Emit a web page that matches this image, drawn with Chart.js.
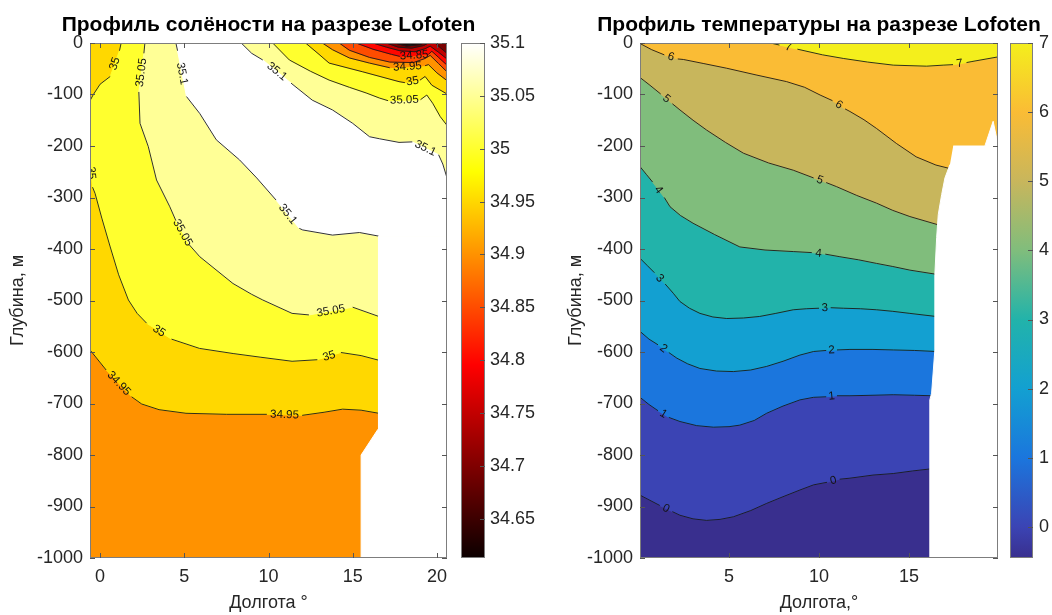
<!DOCTYPE html>
<html lang="ru">
<head>
<meta charset="utf-8">
<title>Профили на разрезе Lofoten</title>
<script src="https://cdn.jsdelivr.net/npm/chart.js@4.4.0/dist/chart.umd.min.js"></script>
<style>
  html, body { margin: 0; background: #fff; }
  #wrap { position: relative; width: 1052px; height: 615px; overflow: hidden; }
  #wrap canvas { position: absolute; top: 0; }
</style>
</head>
<body>
<div id="wrap">
  <canvas id="salChart" width="480" height="615" style="left:0"></canvas>
  <canvas id="salBar" width="95" height="615" style="left:455px"></canvas>
  <canvas id="tempChart" width="497" height="615" style="left:555px"></canvas>
  <canvas id="tempBar" width="48" height="615" style="left:1004px"></canvas>
</div>
<script>
// оси: долгота (°) и глубина (м)
const depthTicks = [0, -100, -200, -300, -400, -500, -600, -700, -800, -900, -1000];
const salLon = [-0.6, 20.6];
const salLonTicks = [0, 5, 10, 15, 20];
const salRange = [34.613, 35.1];
const salTicks = [34.65, 34.7, 34.75, 34.8, 34.85, 34.9, 34.95, 35, 35.05, 35.1];
const tempLon = [0.05, 19.95];
const tempLonTicks = [5, 10, 15];
const tempRange = [-0.45, 7];
const tempTicks = [0, 1, 2, 3, 4, 5, 6, 7];

// изолинии солёности [долгота, глубина], null = разрыв под подпись
const s3495 = [[-0.6,-596],[0.36,-635],null,[1.87,-687],[2.47,-701],[3.5,-712],[5.1,-719],[7.5,-721],[9.9,-721],null,[12.0,-723],[13.3,-717],[14.4,-711],[15.5,-713],[16.55,-719]];
const s35a = [[1.25,0],[1.15,-15],null,[0.6,-65],[0,-80],[-0.4,-100],[-0.6,-112]];
const s35b = [[-0.6,-225],null,[-0.45,-280],[-0.3,-292],[0.1,-340],[0.6,-396],[1.1,-450],[1.68,-499],[2.2,-525],[2.76,-544],null,[4.24,-575],[5.9,-593],[7.9,-603],[9.5,-610],[11.4,-618],[12.9,-615],null,[14.3,-601],[15.5,-607],[16.55,-616]];
const s3505 = [[2.66,0],[2.6,-20],null,[2.3,-95],[2.37,-156],[2.86,-201],[3.35,-266],[4.14,-318],[4.5,-345],null,[5.3,-392],[5.92,-415],[7.89,-467],[9.0,-488],[9.66,-499],[11.4,-525],[12.4,-528],null,[15.0,-513],[16.55,-531]];
const s351a = [[4.5,0],[4.6,-15],null,[5.13,-104],[5.92,-137],[6.9,-188],[8.28,-227],[9.3,-262],[10.45,-305],null,[11.83,-360],[12.03,-363],[13.8,-373],[15.4,-368],[16.55,-375]];
const s351b = [[8.38,0],[9.0,-20],[9.66,-33],null,[11.34,-78],[12.6,-111],[13.8,-130],[15.0,-156],[16.0,-182],[16.6,-186],[17.75,-193],[18.54,-192],null,[20.1,-217],[20.35,-235],[20.6,-262]];
// пятно распреснения в правом верхнем углу
const r3505 = [[10.25,0],[11.24,-33],[12.5,-55],[13.6,-72],[14.8,-86],[15.8,-97],[16.6,-107],[17.1,-112],null,[19.03,-110],[19.4,-101],[19.75,-117],[20.2,-143],[20.6,-160]];
const r35 = [[12.2,0],[13.0,-22],[13.6,-39],[15.6,-56],[17.75,-75],[18.1,-77],null,[19.0,-72],[19.3,-65],[19.7,-82],[20.6,-99]];
const r3495 = [[13.2,0],[13.8,-13],[14.8,-29],[16.0,-39],[17.2,-48],null,[19.3,-44],[19.5,-42],[20.0,-58],[20.6,-73]];
const r349 = [[14.2,0],[14.8,-14],[16.0,-28],[17.2,-37],[18.6,-38],[19.3,-30],[19.6,-24],[20.1,-40],[20.6,-56]];
const r3485 = [[15.2,0],[16.2,-12],[17.3,-22],[17.8,-26],null,[19.5,-22],[19.7,-16],[20.1,-28],[20.6,-43]];
const r348 = [[16.2,0],[17.0,-8],[17.8,-15],[18.7,-17],[19.3,-11],[19.6,-6],[20.1,-18],[20.6,-31]];
const r3475a = [[17.0,0],[17.7,-8],[18.5,-10],[19.2,-5],[19.5,0]];
const r3475b = [[19.9,0],[20.2,-9],[20.6,-20]];
const r347 = [[17.5,0],[18.2,-6],[19.0,-3],[19.2,0]];
const r3465 = [[17.9,0],[18.4,-3],[18.9,0]];
const salNaN = [[16.5,-375],[20.6,-375],[20.6,-1000],[15.5,-1000],[15.5,-800],[16.5,-750]];

// изотермы
const t0 = [[0.05,-878],[0.6,-888],[1.15,-898],null,[1.85,-910],[2.27,-917],[3.0,-924],[3.75,-927],[4.5,-925],[5.24,-920],[6.2,-908],[7.09,-894],[8.0,-881],[8.94,-868],[9.7,-858],[10.45,-853],null,[11.15,-847],[11.72,-845],[13.0,-839],[14.13,-836],[15.2,-831],[16.2,-827]];
const t1 = [[0.05,-688],[0.55,-702],[1.05,-714],null,[1.65,-727],[2.27,-735],[3.2,-743],[4.13,-746],[5.0,-745],[5.6,-742],[6.4,-733],[7.09,-719],[8.0,-705],[8.94,-693],[9.7,-688],[10.4,-687],null,[11.0,-685],[11.72,-685],[13.0,-684],[14.13,-683],[15.3,-684],[16.3,-685]];
const t2 = [[0.05,-560],[0.55,-575],[1.05,-586],null,[1.65,-601],[2.1,-612],[2.7,-623],[3.38,-632],[4.3,-637],[5.24,-638],[6.2,-635],[7.09,-628],[8.0,-618],[8.94,-606],[9.7,-599],[10.4,-597],null,[11.0,-596],[11.72,-595],[13.0,-595],[14.13,-596],[15.3,-597],[16.5,-599]];
const t3 = [[0.05,-418],[0.45,-432],[0.85,-446],null,[1.45,-468],[1.9,-486],[2.27,-502],[2.8,-515],[3.38,-525],[4.1,-532],[4.87,-535],[5.8,-534],[6.7,-531],[7.6,-525],[8.57,-518],[9.3,-516],[10.0,-515],null,[10.65,-514],[11.35,-515],[12.3,-516],[13.2,-518],[14.1,-521],[15.05,-525],[16.5,-531]];
const t4 = [[0.05,-240],[0.4,-255],[0.75,-270],null,[1.4,-300],[1.72,-318],[2.3,-335],[3.0,-350],[4.2,-372],[5.6,-396],[7.0,-402],[8.57,-405],[9.6,-407],null,[10.35,-410],[11.16,-415],[12.2,-421],[13.2,-428],[14.1,-434],[15.05,-441],[16.5,-449]];
const t5 = [[0.05,-67],[0.6,-82],[1.2,-99],null,[1.85,-118],[2.27,-130],[3.0,-150],[3.75,-169],[4.8,-193],[5.8,-214],[7.2,-233],[8.57,-247],[9.7,-262],null,[10.4,-271],[10.98,-279],[12.1,-296],[13.2,-311],[14.1,-325],[15.05,-337],[16.62,-353]];
const t6 = [[0.05,-1],[0.7,-13],[1.4,-23],null,[2.15,-31],[2.46,-32],[3.6,-40],[4.87,-49],[6.5,-62],[8.2,-75],[9.2,-86],[10.06,-101],[10.75,-112],null,[11.45,-128],[11.72,-133],[12.5,-149],[13.2,-166],[14.3,-195],[15.4,-221],[16.5,-237],[17.3,-244]];
const t6b = [[19.22,-201],[19.5,-186]];
const t7 = [[7.3,0],[7.8,-4],null,[8.8,-12],[10.2,-23],[11.35,-30],[12.7,-37],[14.13,-43],[15.98,-45],[16.9,-43],[17.45,-42],null,[18.2,-38],[18.5,-36],[19.95,-27]];
const tempNaN = [[17.46,-200],[19.22,-200],[19.68,-152],[19.87,-184],[19.95,-195],[19.95,-1000],[16.12,-1000],[16.16,-693],[16.26,-680],[16.44,-596],[16.44,-450],[16.54,-378],[16.63,-333],[16.82,-294],[17.0,-262],[17.28,-236]];

// палитра для температуры (приближение parula с картинки)
const tempCmap = [[-0.45,'#392f8e'],[0,'#3b44b4'],[1,'#1b76dd'],[2,'#13a0d1'],[3,'#22b3aa'],[4,'#80bd7c'],[5,'#c8b65c'],[6,'#fabc35'],[7,'#f4ef1c']];

Chart.defaults.font.family = "'Liberation Sans', Arial, Helvetica, sans-serif";
Chart.defaults.font.size = 18;
Chart.defaults.color = '#262626';

const solid = a => a.filter(p => p !== null);
const last = a => a[a.length - 1];

// область выше изолинии (до правого края и верха)
function above(line, x0, x1) {
  const p = solid(line);
  const out = [...p, [x1, last(p)[1]], [x1, 0]];
  if (p[0][0] === x0) out.push([x0, 0]);
  return out;
}
// область в правом верхнем углу
function corner(line, x1) {
  const p = solid(line);
  return last(p)[0] === x1 ? [...p, [x1, 0]] : p;
}

function hot(v) {
  const t = Math.min(1, Math.max(0, (v - salRange[0]) / (salRange[1] - salRange[0])));
  const r = Math.min(1, t / 0.375);
  const g = Math.min(1, Math.max(0, (t - 0.375) / 0.375));
  const b = Math.max(0, (t - 0.75) / 0.25);
  return `rgb(${Math.round(r * 255)},${Math.round(g * 255)},${Math.round(b * 255)})`;
}
const hotStops = [[0, '#0b0000'], [0.375, '#ff0000'], [0.75, '#ffff00'], [1, '#ffffff']]
  .map(([t, c]) => [salRange[0] + t * (salRange[1] - salRange[0]), c]);

function hex2rgb(h) {
  return [1, 3, 5].map(i => parseInt(h.slice(i, i + 2), 16));
}
function tempColor(v) {
  for (let i = 1; i < tempCmap.length; i++) {
    const [v0, c0] = tempCmap[i - 1], [v1, c1] = tempCmap[i];
    if (v <= v1) {
      const k = Math.max(0, (v - v0) / (v1 - v0));
      const a = hex2rgb(c0), b = hex2rgb(c1);
      return `rgb(${a.map((x, j) => Math.round(x + (b[j] - x) * k)).join(',')})`;
    }
  }
  return last(tempCmap)[1];
}

function areaDs(points, color) {
  return {
    data: points.map(([x, y]) => ({x, y})),
    fill: 'shape',
    backgroundColor: color,
    borderColor: color,
    borderWidth: 1,
    pointRadius: 0,
    tension: 0
  };
}
function lineDs(points) {
  return {
    data: points.map(p => p ? {x: p[0], y: p[1]} : {x: null, y: null}),
    fill: false,
    borderColor: '#1a1a1a',
    borderWidth: 0.9,
    pointRadius: 0,
    tension: 0,
    spanGaps: false
  };
}

// подписи изолиний в разрывах линий
const contourLabels = {
  id: 'contourLabels',
  afterDatasetsDraw(chart, args, opts) {
    const {ctx, chartArea: a, scales: {x, y}} = chart;
    ctx.save();
    ctx.beginPath();
    ctx.rect(a.left, a.top, a.right - a.left, a.bottom - a.top);
    ctx.clip();
    ctx.font = "11.5px 'Liberation Sans', Arial, sans-serif";
    ctx.fillStyle = '#141414';
    ctx.textAlign = 'center';
    ctx.textBaseline = 'middle';
    opts.lines.forEach(([pts, text]) => {
      pts.forEach((p, i) => {
        if (p !== null || i === 0 || i === pts.length - 1) return;
        const p0 = pts[i - 1], p1 = pts[i + 1];
        const x0 = x.getPixelForValue(p0[0]), y0 = y.getPixelForValue(p0[1]);
        const x1 = x.getPixelForValue(p1[0]), y1 = y.getPixelForValue(p1[1]);
        let ang = Math.atan2(y1 - y0, x1 - x0);
        if (ang > Math.PI / 2) ang -= Math.PI;
        if (ang < -Math.PI / 2) ang += Math.PI;
        ctx.save();
        ctx.translate((x0 + x1) / 2, (y0 + y1) / 2);
        ctx.rotate(ang);
        ctx.fillText(text, 0, 0);
        ctx.restore();
      });
    });
    ctx.restore();
  }
};

// рамка осей и засечки внутрь
const frame = {
  id: 'frame',
  afterDatasetsDraw(chart, args, opts) {
    const {ctx, chartArea: a} = chart;
    const len = 5;
    ctx.save();
    ctx.strokeStyle = '#7d7d7d';
    ctx.lineWidth = 1;
    ctx.strokeRect(a.left + 0.5, a.top + 0.5, a.right - a.left - 1, a.bottom - a.top - 1);
    ctx.strokeStyle = '#555';
    ctx.beginPath();
    (opts.x ? chart.scales.x.ticks : []).forEach(t => {
      const px = Math.round(chart.scales.x.getPixelForValue(t.value)) + 0.5;
      ctx.moveTo(px, a.bottom); ctx.lineTo(px, a.bottom - len);
      ctx.moveTo(px, a.top); ctx.lineTo(px, a.top + len);
    });
    chart.scales.y.ticks.forEach(t => {
      const py = Math.round(chart.scales.y.getPixelForValue(t.value)) + 0.5;
      if (opts.left) { ctx.moveTo(a.left, py); ctx.lineTo(a.left + len, py); }
      ctx.moveTo(a.right, py); ctx.lineTo(a.right - len, py);
    });
    ctx.stroke();
    ctx.restore();
  }
};

// заголовок по центру осей, шире самих осей (без сжатия)
const heading = {
  id: 'heading',
  afterDraw(chart, args, opts) {
    const {ctx, chartArea: a} = chart;
    ctx.save();
    ctx.font = "bold 21px 'Liberation Sans', Arial, sans-serif";
    ctx.fillStyle = '#000';
    ctx.textAlign = 'center';
    ctx.textBaseline = 'middle';
    ctx.fillText(opts.text, (a.left + a.right) / 2, 25);
    ctx.restore();
  }
};

function sectionChart(id, o) {
  const datasets = [
    ...o.areas.map(([pts, c]) => areaDs(pts, c)),
    ...o.lines.map(([pts]) => lineDs(pts)),
    areaDs(o.mask, '#ffffff')
  ].map((d, i) => ({...d, order: -i}));

  return new Chart(document.getElementById(id), {
    type: 'line',
    data: {datasets},
    options: {
      responsive: false,
      animation: false,
      events: [],
      layout: {padding: {left: 0, right: o.padRight, top: 43, bottom: 0}},
      scales: {
        x: {
          type: 'linear',
          min: o.lon[0],
          max: o.lon[1],
          afterBuildTicks: s => { s.ticks = o.lonTicks.map(v => ({value: v})); },
          afterFit: s => { s.height = 57; },
          grid: {display: false, drawTicks: false},
          border: {display: false},
          ticks: {padding: 8, maxRotation: 0, autoSkip: false, callback: v => String(v)},
          title: {display: true, text: o.xTitle, padding: {top: 0, bottom: 1}}
        },
        y: {
          type: 'linear',
          min: -1000,
          max: 0,
          afterBuildTicks: s => { s.ticks = depthTicks.map(v => ({value: v})); },
          afterFit: s => { s.width = o.yWidth; },
          grid: {display: false, drawTicks: false},
          border: {display: false},
          ticks: {padding: 7, autoSkip: false, callback: v => String(v)},
          title: {display: true, text: 'Глубина, м', padding: {top: o.yTitlePad, bottom: 0}}
        }
      },
      plugins: {
        legend: {display: false},
        tooltip: {enabled: false},
        title: {display: false},
        heading: {text: o.title},
        contourLabels: {lines: o.lines},
        frame: {x: true, left: true}
      }
    },
    plugins: [contourLabels, frame, heading]
  });
}

function colorBar(id, o) {
  return new Chart(document.getElementById(id), {
    type: 'bar',
    data: {
      labels: [''],
      datasets: [{
        data: [o.range],
        backgroundColor: c => {
          const chart = c.chart;
          if (!chart.chartArea) return 'transparent';
          const ys = chart.scales.y;
          const g = chart.ctx.createLinearGradient(0, ys.getPixelForValue(o.range[0]), 0, ys.getPixelForValue(o.range[1]));
          o.stops.forEach(([v, col]) => g.addColorStop((v - o.range[0]) / (o.range[1] - o.range[0]), col));
          return g;
        },
        barPercentage: 1,
        categoryPercentage: 1,
        borderWidth: 0,
        borderSkipped: false
      }]
    },
    options: {
      responsive: false,
      animation: false,
      events: [],
      layout: {padding: {left: 6, right: 0, top: 43, bottom: 57}},
      scales: {
        x: {display: false},
        y: {
          position: 'right',
          min: o.range[0],
          max: o.range[1],
          beginAtZero: false,
          afterBuildTicks: s => { s.ticks = o.ticks.map(v => ({value: v})); },
          afterFit: s => { s.width = o.axisWidth; },
          grid: {display: false, drawTicks: false},
          border: {display: false},
          ticks: {padding: o.pad, autoSkip: false, callback: v => String(+v.toFixed(2))}
        }
      },
      plugins: {
        legend: {display: false},
        tooltip: {enabled: false},
        frame: {x: false, left: false}
      }
    },
    plugins: [frame]
  });
}

// солёность
const [sx0, sx1] = salLon;
sectionChart('salChart', {
  title: 'Профиль солёности на разрезе Lofoten',
  xTitle: 'Долгота °',
  lon: salLon,
  lonTicks: salLonTicks,
  padRight: 33,
  yWidth: 90,
  yTitlePad: 7,
  areas: [
    [[[sx0, 0], [sx1, 0], [sx1, -1000], [sx0, -1000]], hot(34.9)],
    [above(s3495, sx0, sx1), hot(34.95)],
    [[...solid(s35b), [sx1, last(s35b)[1]], [sx1, 0], ...solid(s35a)], hot(35)],
    [above(s3505, sx0, sx1), hot(35.05)],
    [[...solid(s351a), [sx1, last(s351a)[1]], ...solid(s351b).reverse()], hot(35.1)],
    [corner(r3505, sx1), hot(35)],
    [corner(r35, sx1), hot(34.95)],
    [corner(r3495, sx1), hot(34.9)],
    [corner(r349, sx1), hot(34.85)],
    [corner(r3485, sx1), hot(34.8)],
    [corner(r348, sx1), hot(34.75)],
    [corner(r3475a, sx1), hot(34.7)],
    [corner(r3475b, sx1), hot(34.7)],
    [corner(r347, sx1), hot(34.65)],
    [corner(r3465, sx1), hot(salRange[0])]
  ],
  lines: [
    [s3495, '34.95'], [s35a, '35'], [s35b, '35'], [s3505, '35.05'], [s351a, '35.1'], [s351b, '35.1'],
    [r3505, '35.05'], [r35, '35'], [r3495, '34.95'], [r349, '34.9'], [r3485, '34.85'], [r348, '34.8'],
    [r3475a, '34.75'], [r3475b, '34.75'], [r347, '34.7'], [r3465, '34.65']
  ],
  mask: salNaN
});
colorBar('salBar', {range: salRange, ticks: salTicks, stops: hotStops, axisWidth: 65, pad: 5});

// температура
const [tx0, tx1] = tempLon;
const isotherms = [t0, t1, t2, t3, t4, t5, t6];
sectionChart('tempChart', {
  title: 'Профиль температуры на разрезе Lofoten',
  xTitle: 'Долгота,°',
  lon: tempLon,
  lonTicks: tempLonTicks,
  padRight: 54,
  yWidth: 85,
  yTitlePad: 10,
  areas: [
    [[[tx0, 0], [tx1, 0], [tx1, -1000], [tx0, -1000]], tempColor(tempRange[0])],
    ...isotherms.map((t, i) => [above(t, tx0, tx1), tempColor(i)]),
    [corner(t7, tx1), tempColor(7)]
  ],
  lines: [...isotherms.map((t, i) => [t, String(i)]), [t6b, '6'], [t7, '7']],
  mask: tempNaN
});
colorBar('tempBar', {range: tempRange, ticks: tempTicks, stops: tempCmap, axisWidth: 19, pad: 6});
</script>
</body>
</html>
